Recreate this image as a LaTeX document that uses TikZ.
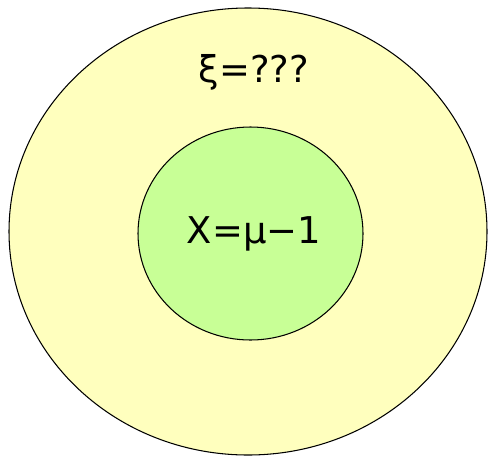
\documentclass[tikz,border=0pt]{standalone}
\usepackage{fontspec}
\setmainfont{DejaVu Sans}
\usetikzlibrary{shapes.geometric}
\definecolor{outercolor}{RGB}{255,255,190}
\definecolor{innercolor}{RGB}{200,255,150}

\begin{document}
\begin{tikzpicture}[
  region/.style={ellipse,draw,line width=0.6pt,inner sep=0pt},
  label/.style={font=\fontsize{21}{25}\selectfont}
]
  \useasboundingbox (0,0) rectangle (9.76,-9.12);
  % nested sets
  \node[region,fill=outercolor,minimum width=9.56cm,minimum height=8.94cm] (outer) at (4.96,-4.63) {};
  \node[region,fill=innercolor,minimum width=4.5cm,minimum height=4.26cm] (inner) at (5.01,-4.67) {};
  \node[label] (xi) at (5.08,-1.44) {ξ=???};
  \node[label] (chi) at (5.08,-4.68) {Χ=μ−1};
\end{tikzpicture}
\end{document}
